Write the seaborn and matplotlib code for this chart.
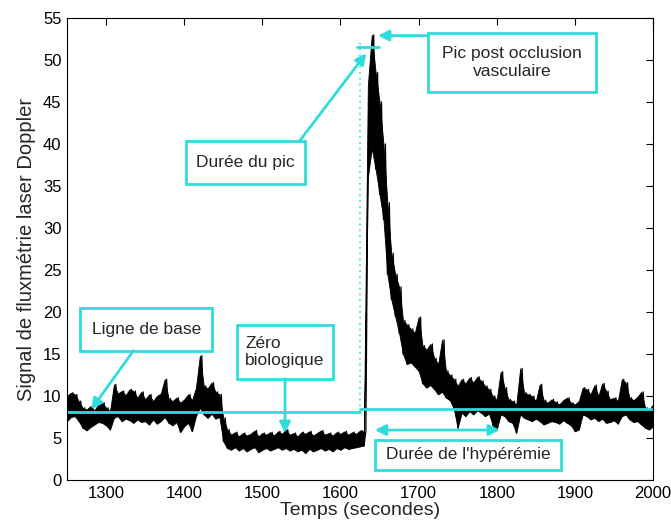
import numpy as np
import pandas as pd
import matplotlib
matplotlib.use("Agg")
import matplotlib.pyplot as plt
from matplotlib.patches import Rectangle
import seaborn as sns

# temps (s), pas de 5 s ; enveloppe haute / basse du signal
temps = np.arange(1250, 2001, 5)
signal_haut = [
    10.0, 10.4, 10.2, 9.4, 8.6, 8.4, 8.8, 8.3, 9.0, 9.2,
    8.6, 8.2, 11.4, 10.3, 10.6, 10.1, 10.8, 10.6, 9.8, 10.5,
    9.6, 10.2, 9.4, 10.0, 10.3, 12.0, 9.7, 9.4, 9.8, 9.2,
    9.6, 10.2, 9.5, 11.0, 14.8, 11.2, 10.9, 11.6, 10.5, 10.2,
    7.4, 6.0, 5.4, 5.7, 5.2, 5.6, 5.3, 5.5, 5.9, 5.2,
    5.6, 5.4, 5.7, 5.3, 5.8, 5.5, 6.0, 5.4, 5.6, 5.2,
    5.7, 5.5, 5.8, 5.3, 5.6, 5.9, 5.4, 5.6, 5.3, 5.7,
    5.5, 5.8, 5.4, 5.7, 5.5, 5.9, 5.8, 47.0, 53.0, 48.5,
    45.0, 40.0, 33.0, 27.0, 24.5, 23.0, 19.0, 18.5, 18.0, 17.5,
    19.4, 16.0, 15.5, 16.2, 14.5, 13.8, 16.7, 13.0, 12.5, 12.0,
    11.2, 12.0, 11.5, 12.2, 11.6, 12.3, 11.8, 11.2, 10.8, 10.0,
    9.6, 12.9, 11.0, 9.6, 9.4, 9.0, 13.3, 10.4, 10.2, 10.0,
    9.4, 11.4, 9.5, 9.2, 9.6, 9.3, 9.0, 9.5, 9.8, 9.2,
    9.0, 9.4, 11.0, 10.8, 10.2, 11.3, 10.0, 11.5, 10.6, 9.6,
    9.8, 9.4, 12.0, 11.6, 9.8, 9.5, 9.9, 10.5, 8.6, 8.4,
    9.0,
]
signal_bas = [
    7.0, 7.5, 7.6, 7.0, 6.2, 5.9, 6.3, 6.6, 6.9, 6.8,
    6.5, 6.0, 7.4, 7.6, 7.0, 7.3, 7.1, 6.8, 7.2, 6.9,
    7.0, 6.6, 7.2, 6.7, 7.0, 7.5, 6.8, 6.5, 6.9, 5.7,
    6.4, 6.8, 5.8, 7.6, 8.6, 7.8, 7.4, 7.9, 7.3, 7.5,
    4.6, 3.8, 3.6, 3.9, 3.5, 3.8, 3.4, 3.7, 3.9, 3.3,
    3.6, 3.8, 3.5, 3.7, 3.9, 3.6, 3.8, 3.5, 3.7, 3.4,
    3.6, 3.2, 3.7, 3.4, 3.6, 3.8, 3.5, 3.7, 3.4, 3.8,
    3.6, 3.9, 3.7, 3.8, 3.9, 4.0, 4.1, 36.0, 39.5, 37.0,
    34.0, 31.0, 24.5, 21.5, 19.5, 17.5, 15.0, 13.8, 14.0, 13.5,
    13.0, 11.5, 11.0, 11.3, 10.8, 10.2, 10.5, 9.8, 9.5, 8.5,
    6.2, 8.0, 7.6, 8.2, 7.8, 8.3, 8.0, 7.6, 7.9, 6.5,
    6.0, 7.8, 7.6, 7.0, 6.8, 5.6, 7.8, 7.4, 7.2, 7.0,
    7.3, 7.0, 6.6, 6.8, 7.0, 6.9, 6.7, 7.1, 6.8, 6.5,
    5.8, 6.0, 7.8, 7.6, 7.2, 7.4, 7.0, 7.3, 6.8, 6.9,
    7.1, 6.7, 7.6, 7.8, 7.2, 6.9, 7.0, 6.6, 6.2, 6.0,
    6.4,
]

ligne_base_avant = 8.1
ligne_base_apres = 8.4
debut_pic = 1625
fin_pic = 1649
niveau_pic = 51.6

cyan = "#2fdcdc"

# signal en dents de scie entre les deux enveloppes
x_sig = np.ravel(np.column_stack([temps, temps + 2.5]))
y_sig = np.ravel(np.column_stack([signal_bas, signal_haut]))
df = pd.DataFrame({"Temps": x_sig, "Signal": y_sig})

sns.set_style("white")
plt.rcParams["font.family"] = ["Liberation Sans", "DejaVu Sans"]

fig = plt.figure(figsize=(6.71, 5.31), dpi=100)
ax = fig.add_axes([0.0999, 0.0960, 0.8733, 0.8701])

# bande noire dense entre les enveloppes + dents de scie pour les pointes
ax.fill_between(temps, signal_bas, signal_haut, color="black", lw=0.6)
sns.lineplot(data=df, x="Temps", y="Signal", sort=False, estimator=None,
             color="black", lw=0.9, ax=ax)

# ligne de base et durée du pic
ax.plot([1250, debut_pic], [ligne_base_avant] * 2, color=cyan, lw=2)
ax.plot([debut_pic, 2000], [ligne_base_apres] * 2, color=cyan, lw=2)
ax.plot([debut_pic, debut_pic], [ligne_base_avant, 52.4], color=cyan, lw=1.2, ls=(0, (1, 2.5)))
ax.plot([1621, fin_pic], [niveau_pic] * 2, color=cyan, lw=2)

ax.set_xlim(1250, 2000)
ax.set_ylim(0, 55)
ax.set_xticks(range(1300, 2001, 100))
ax.set_yticks(range(0, 56, 5))
ax.tick_params(direction="in", length=5, top=True, right=True, labelsize=12,
               colors="black", width=0.8, pad=4)
for s in ax.spines.values():
    s.set_color("black")
    s.set_linewidth(0.8)
ax.set_xlabel("Temps (secondes)", fontsize=14, labelpad=1)
ax.set_ylabel("Signal de fluxmétrie laser Doppler", fontsize=14.5, labelpad=5)


def boite(x0, y0, x1, y1, texte, align="center"):
    ax.add_patch(Rectangle((x0, y0), x1 - x0, y1 - y0, fill=True, fc="white",
                           ec=cyan, lw=2, zorder=5))
    ax.text((x0 + x1) / 2, (y0 + y1) / 2, texte, ha="center", va="center",
            multialignment=align, fontsize=12.5, zorder=6, linespacing=1.2)


def fleche(tail, tip, style="-|>"):
    ax.annotate("", xy=tip, xytext=tail, zorder=7,
                arrowprops=dict(arrowstyle=style, color=cyan, lw=2,
                                mutation_scale=16, shrinkA=0, shrinkB=0))


boite(1402, 35.2, 1555, 40.4, "Durée du pic")
fleche((1548, 40.4), (1633, 50.8))

boite(1712, 46.2, 1927, 53.2, "Pic post occlusion\nvasculaire")
fleche((1712, 52.9), (1648, 52.9))

boite(1267, 15.4, 1436, 20.5, "Ligne de base")
fleche((1335, 15.4), (1281, 8.4))

boite(1468, 12.0, 1590, 18.5, "Zéro\nbiologique", align="left")
fleche((1529, 12.0), (1529, 5.6))

boite(1644, 1.2, 1882, 4.8, "Durée de l'hypérémie")
fleche((1644, 5.95), (1804, 5.95), style="<|-|>")

fig.savefig("out.png", dpi=100)
